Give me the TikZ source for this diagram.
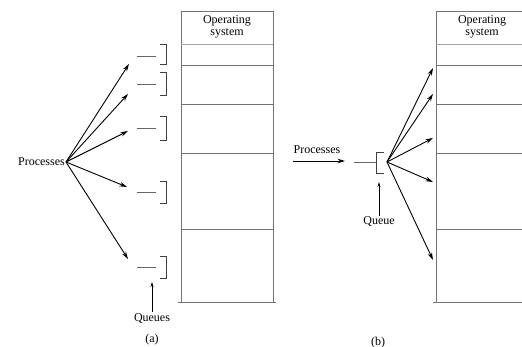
\documentclass[tikz,border=0pt]{standalone}
\usepackage{fontspec}
\setmainfont{Liberation Serif}
\usetikzlibrary{arrows.meta}
\begin{document}
\begin{tikzpicture}[x=1pt,y=-1pt,
  mem/.style={draw=black!55,line width=0.9pt},
  memlabel/.style={align=center,font=\fontsize{12}{12.5}\selectfont,inner sep=0pt},
  lbl/.style={font=\fontsize{12}{13}\selectfont,inner sep=1pt},
  arr/.style={draw=black,line width=0.9pt,-{Stealth[length=7.5pt,width=4.5pt]}},
  qline/.style={draw=black!60,line width=0.9pt},
  qbr/.style={draw=black!75,line width=0.9pt}]
\useasboundingbox (0,0) rectangle (522,347);
% ---------- (a) memory
\draw[mem] (181,302) -- (181,11) -- (273,11) -- (273,302);
\draw[mem] (178,302) -- (276,302);
\draw[draw=black!35,line width=0.9pt] (181,44) -- (273,44);
\foreach \yy in {65,104,153,229} \draw[mem] (181,\yy) -- (273,\yy);
\node[memlabel] (osa) at (227,27) {Operating\\system};
% ---------- (a) queues
\foreach \ym/\ya/\yb in {56/44/64, 84/72/95, 128/116/140, 192/181/203, 267/256/278}{
  \draw[qline] (137,\ym) -- (156,\ym);
  \draw[qbr] (160,\ya) -- (166,\ya) -- (166,\yb) -- (160,\yb);
}
\node[lbl,anchor=east] (pa) at (66,162) {Processes};
\coordinate (a1) at (129,64);
\coordinate (a2) at (128,94);
\coordinate (a3) at (128,131);
\coordinate (a4) at (127,187);
\coordinate (a5) at (128,259);
\foreach \c in {a1,a2,a3,a4,a5} \draw[arr] (pa.east) -- (\c);
\node[lbl] (qa) at (152,318) {Queues};
\draw[draw=black,line width=0.7pt,-{Stealth[length=5pt,width=3pt]}] (qa.north) -- (152,282);
\node[lbl] (capa) at (152,340) {(a)};
% ---------- (b) memory
\draw[mem] (436,302) -- (436,11) -- (522,11);
\draw[mem] (433,302) -- (522,302);
\draw[draw=black!35,line width=0.9pt] (436,44) -- (522,44);
\foreach \yy in {65,104,153,229} \draw[mem] (436,\yy) -- (522,\yy);
\node[memlabel] (osb) at (482,27) {Operating\\system};
% ---------- (b) queue
\node[lbl] (pb) at (317,150) {Processes};
\coordinate (pbs) at (293,161);
\coordinate (pbe) at (345,161);
\draw[arr] (pbs) -- (pbe);
\draw[qline] (354,162) -- (376,162);
\draw[qbr] (384,152) -- (376,152) -- (376,173) -- (384,173);
\coordinate (qo) at (387,162);
\coordinate (b1) at (433,68);
\coordinate (b2) at (433,94);
\coordinate (b3) at (433,138);
\coordinate (b4) at (433,182);
\coordinate (b5) at (433,260);
\foreach \c in {b1,b2,b3,b4,b5} \draw[arr] (qo) -- (\c);
\node[lbl] (qb) at (379,222) {Queue};
\draw[draw=black,line width=0.7pt,-{Stealth[length=5pt,width=3pt]}] (qb.north) -- (379,182);
\node[lbl] (capb) at (378,343) {(b)};
\end{tikzpicture}
\end{document}
